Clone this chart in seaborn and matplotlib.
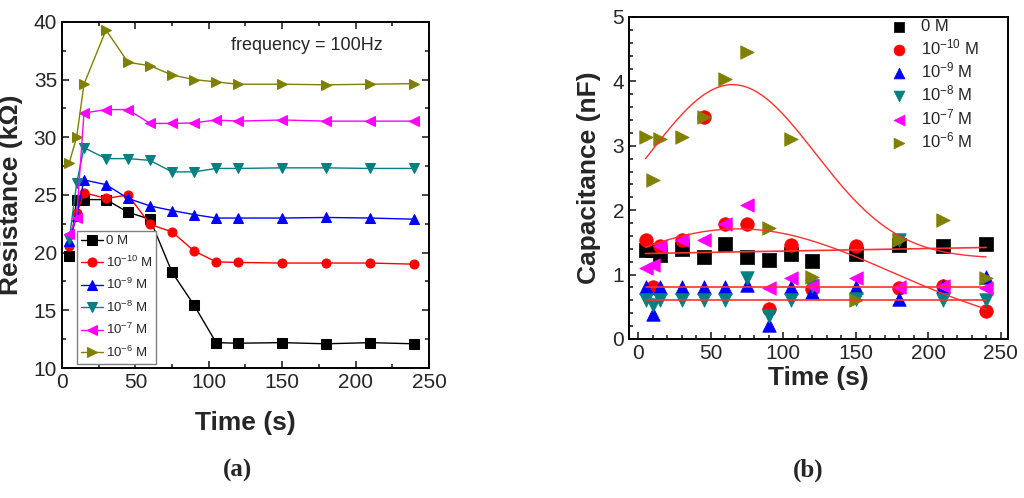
import matplotlib
matplotlib.use("Agg")
import matplotlib.pyplot as plt
from matplotlib.ticker import MultipleLocator
import numpy as np
import seaborn as sns

# ---- data ----
time_s = [5, 10, 15, 30, 45, 60, 75, 90, 105, 120, 150, 180, 210, 240]
labels = ["0 M", "10$^{-10}$ M", "10$^{-9}$ M", "10$^{-8}$ M", "10$^{-7}$ M", "10$^{-6}$ M"]
colors = ["#000000", "#FF0000", "#0000FF", "#008080", "#FF00FF", "#808000"]
markers = ["s", "o", "^", "v", "<", ">"]

# (a) resistance, kOhm
res_0 = [19.7, 24.6, 24.6, 24.6, 23.5, 22.9, 18.3, 15.45, 12.2, 12.15, 12.2, 12.1, 12.2, 12.1]
res_m10 = [20.6, 23.4, 25.2, 24.7, 25.0, 22.45, 21.8, 20.15, 19.2, 19.15, 19.1, 19.1, 19.1, 19.0]
res_m9 = [21.0, 23.2, 26.3, 25.9, 24.7, 24.05, 23.65, 23.3, 23.0, 23.0, 23.0, 23.05, 23.0, 22.9]
res_m8 = [21.2, 26.0, 29.1, 28.15, 28.15, 28.0, 27.0, 27.0, 27.3, 27.3, 27.35, 27.35, 27.3, 27.3]
res_m7 = [21.6, 23.0, 32.1, 32.4, 32.4, 31.2, 31.2, 31.25, 31.5, 31.4, 31.5, 31.4, 31.4, 31.4]
res_m6 = [27.8, 30.0, 34.6, 39.3, 36.5, 36.2, 35.4, 35.0, 34.8, 34.6, 34.6, 34.55, 34.6, 34.65]

# (b) capacitance, nF
cap_0 = [1.375, 1.375, 1.30, 1.40, 1.27, 1.48, 1.27, 1.22, 1.32, 1.21, 1.32, 1.46, 1.44, 1.48]
cap_m10 = [1.53, 0.815, 1.45, 1.53, 3.45, 1.79, 1.79, 0.47, 1.46, 0.78, 1.45, 0.79, 0.82, 0.44]
cap_m9 = [0.80, 0.39, 0.80, 0.80, 0.80, 0.80, 0.84, 0.21, 0.80, 0.73, 0.80, 0.62, 0.82, 0.96]
cap_m8 = [0.60, 0.52, 0.60, 0.60, 0.60, 0.60, 0.95, 0.35, 0.60, 0.83, 0.62, 1.53, 0.60, 0.60]
cap_m7 = [1.10, 1.15, 1.45, 1.53, 1.53, 1.79, 2.08, 0.79, 0.95, 0.83, 0.95, 0.80, 0.82, 0.79]
cap_m6 = [3.14, 2.47, 3.10, 3.14, 3.45, 4.03, 4.46, 1.72, 3.10, 0.96, 0.61, 1.53, 1.84, 0.95]

# fitted curves in (b): gaussian (y0, A, tc, w) and straight lines (a, b)
gauss_m6 = (1.25, 2.70, 65.0, 57.0)
gauss_m10 = (0.0, 1.71, 69.0, 106.0)
line_0 = (1.325, 0.0004)
line_m9 = (0.80, 0.0)
line_m8 = (0.61, 0.0)

res_series = [res_0, res_m10, res_m9, res_m8, res_m7, res_m6]
cap_series = [cap_0, cap_m10, cap_m9, cap_m8, cap_m7, cap_m6]

sns.set_theme(style="ticks")
plt.rcParams["font.family"] = ["Liberation Sans", "DejaVu Sans"]
plt.rcParams["mathtext.default"] = "regular"
plt.rcParams["xtick.direction"] = "in"
plt.rcParams["ytick.direction"] = "in"

fig = plt.figure(figsize=(10.24, 4.98), dpi=100)
ax1 = fig.add_axes([0.0605, 0.261, 0.3584, 0.695])
ax2 = fig.add_axes([0.6143, 0.3193, 0.370, 0.6466])

# ---- (a) ----
for vals, lab, col, mk in zip(res_series, labels, colors, markers):
    sns.lineplot(x=time_s, y=vals, ax=ax1, color=col, marker=mk, markersize=6.5,
                 markeredgecolor=col, linewidth=1.0, label=lab)

ax1.set_xlim(0, 250)
ax1.set_ylim(10, 40)
ax1.xaxis.set_major_locator(MultipleLocator(50))
ax1.xaxis.set_minor_locator(MultipleLocator(25))
ax1.yaxis.set_major_locator(MultipleLocator(5))
ax1.yaxis.set_minor_locator(MultipleLocator(2.5))
ax1.tick_params(which="both", top=True, right=True, labelsize=15, width=1.2)
ax1.tick_params(which="major", length=5)
ax1.tick_params(which="minor", length=3)
ax1.set_xlabel("Time (s)", fontsize=19, fontweight="bold", labelpad=14)
ax1.set_ylabel("Resistance (k\u03a9)", fontsize=19, fontweight="bold", labelpad=8)
ax1.text(0.46, 0.92, "frequency = 100Hz", transform=ax1.transAxes, fontsize=13)
leg1 = ax1.legend(loc="lower left", bbox_to_anchor=(0.035, 0.005), fontsize=9.5,
                  frameon=True, fancybox=False, framealpha=1, edgecolor="#808080",
                  handlelength=1.6, labelspacing=0.55, borderpad=0.3,
                  handletextpad=0.25, borderaxespad=0.2)
leg1.get_frame().set_linewidth(1.0)

# ---- (b) ----
for vals, lab, col, mk in zip(cap_series, labels, colors, markers):
    sns.scatterplot(x=time_s, y=vals, ax=ax2, color=col, marker=mk, s=95,
                    edgecolor=col, linewidth=0.5, label=lab, zorder=3)

t_fit = np.linspace(5, 240, 300)
for y0, amp, tc, w in (gauss_m6, gauss_m10):
    sns.lineplot(x=t_fit, y=y0 + amp * np.exp(-(t_fit - tc) ** 2 / (2 * w ** 2)),
                 ax=ax2, color="#FF3030", linewidth=1.0, zorder=4)
for a, b in (line_0, line_m9, line_m8):
    sns.lineplot(x=t_fit, y=a + b * t_fit, ax=ax2, color="#FF3030",
                 linewidth=1.2, zorder=4)

ax2.set_xlim(-6.4, 255)
ax2.set_ylim(0, 5)
ax2.xaxis.set_major_locator(MultipleLocator(50))
ax2.xaxis.set_minor_locator(MultipleLocator(10))
ax2.yaxis.set_major_locator(MultipleLocator(1))
ax2.yaxis.set_minor_locator(MultipleLocator(0.2))
ax2.tick_params(which="both", labelsize=15, width=1.2)
ax2.tick_params(which="major", length=5)
ax2.tick_params(which="minor", length=3)
ax2.set_xlabel("Time (s)", fontsize=19, fontweight="bold", labelpad=2)
ax2.set_ylabel("Capacitance (nF)", fontsize=19, fontweight="bold", labelpad=8)
ax2.legend(loc="upper left", bbox_to_anchor=(0.63, 1.04), fontsize=12, frameon=False,
           labelspacing=0.2, handletextpad=0.3, markerscale=0.8)

for ax in (ax1, ax2):
    for sp in ax.spines.values():
        sp.set_linewidth(1.4)
        sp.set_color("black")
        sp.set_visible(True)

fig.text(0.232, 0.055, "(a)", fontsize=18, fontweight="bold", family="Liberation Serif",
         ha="center", va="center")
fig.text(0.789, 0.055, "(b)", fontsize=18, fontweight="bold", family="Liberation Serif",
         ha="center", va="center")

fig.savefig("out.png", dpi=100)
